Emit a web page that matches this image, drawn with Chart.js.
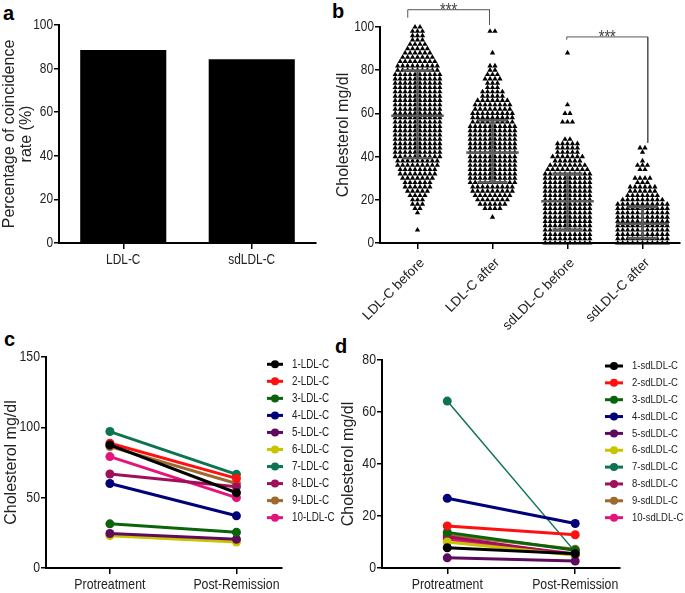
<!DOCTYPE html>
<html><head><meta charset="utf-8">
<script src="https://cdn.jsdelivr.net/npm/chart.js@4.4.1/dist/chart.umd.min.js"></script>
<style>
html,body{margin:0;padding:0;background:#fff;}
body{width:685px;height:593px;position:relative;overflow:hidden;}
canvas{position:absolute;}
.lbl{position:absolute;font:bold 20px 'Liberation Sans',Arial,sans-serif;line-height:20px;color:#000;}
</style></head><body>
<div class="lbl" style="left:3px;top:3px">a</div>
<div class="lbl" style="left:332px;top:1px">b</div>
<div class="lbl" style="left:4px;top:329px">c</div>
<div class="lbl" style="left:335px;top:336px">d</div>
<canvas id="ca" width="340" height="300" style="left:0;top:0"></canvas>
<canvas id="cb" width="355" height="340" style="left:330px;top:0"></canvas>
<canvas id="cc" width="336" height="253" style="left:0;top:340px"></canvas>
<canvas id="cd" width="355" height="253" style="left:330px;top:340px"></canvas>
<script>
// ---------- DATA ----------
const barCategories = ['LDL-C', 'sdLDL-C'];
const barValues = [88.5, 84.3];

const groupNames = ['LDL-C before', 'LDL-C after', 'sdLDL-C before', 'sdLDL-C after'];
const swarmLevels = [0,2,4,6,8,10,12,14,16,18,20,22,24,26,28,30,32,34,36,38,40,42,44,46,48,50,52,54,56,58,60,62,64,66,68,70,72,74,76,78,80,82,84,86,88,90,92,94,96,98,100];
const ldlBeforeCounts = [0,0,0,1,0,0,0,1,2,3, 3,4,5,6,6,7,8,8,9,9, 10,10,10,10,10,10,10,10,10,10, 10,10,10,10,10,10,10,10,10,10, 9,9,8,7,6,5,4,3,3,3, 2];
const ldlAfterCounts  = [0,0,0,0,0,0,1,0,4,6, 7,8,9,9,10,10,10,10,10,10, 10,10,10,10,10,10,10,10,9,9, 9,8,8,7,5,5,3,3,4,3, 2,2,0,0,1,0,0,0,0,2, 0];
const sdBeforeCounts  = [10,10,10,10,10,10,10,10,10,10, 10,10,10,10,10,10,10,9,8,6, 7,5,5,5,2,0,0,0,3,0, 2,0,1,0,0,0,0,0,0,0, 0,0,0,0,1,0,0,0,0,0, 0];
const sdAfterCounts   = [11,11,11,11,11,11,11,11,11,11, 9,7,6,6,3,4,0,2,3,1, 0,1,2,0,0,0,0,0,0,0, 0,0,0,0,0,0,0,0,0,0, 0,0,0,0,0,0,0,0,0,0, 0];
const groupMeans  = [58.9, 41.9, 19.3, 8.9];
const groupSdLow  = [39.3, 28.1, 6.2, 2.3];
const groupSdHigh = [79.9, 56.8, 32.1, 16.7];
const bracketLeftX  = [-0.13, 1.99];
const bracketRightX = [0.96, 3.07];
const bracketTop    = [108, 95.4];
const bracketLeftEnd  = [104.3, 94.1];
const bracketRightEnd = [101, 46.4];
const bracketText = ['***', '***'];

const timepoints = ['Protreatment', 'Post-Remission'];
const ldlLabels = ['1-LDL-C','2-LDL-C','3-LDL-C','4-LDL-C','5-LDL-C','6-LDL-C','7-LDL-C','8-LDL-C','9-LDL-C','10-LDL-C'];
const ldlPre  = [87.5, 88.7, 31.4, 60.1, 24.5, 23.0, 97.0, 66.8, 86.3, 79.2];
const ldlPost = [53.5, 63.7, 25.4, 37.1, 20.4, 18.5, 66.6, 57.8, 60.1, 50.0];
const sdLabels = ['1-sdLDL-C','2-sdLDL-C','3-sdLDL-C','4-sdLDL-C','5-sdLDL-C','6-sdLDL-C','7-sdLDL-C','8-sdLDL-C','9-sdLDL-C','10-sdLDL-C'];
const sdPre  = [7.8, 16.2, 13.7, 26.8, 3.9, 10.0, 64.2, 12.0, 12.7, 11.0];
const sdPost = [5.5, 12.8, 6.8, 17.1, 2.7, 4.9, 6.2, 5.0, 7.2, 5.5];
const seriesColors = ['#000000','#ff1010','#0a650a','#00007a','#5e0a5e','#c8c400','#0e7450','#a0105a','#9b6a2c','#e3157c'];

// ---------- STYLE ----------
const REG = "'Liberation Sans',Arial,sans-serif";
// the reference figure's horizontal text is narrow: squeeze unrotated canvas text horizontally around its anchor
const SQX = 0.82;
const _fillText = CanvasRenderingContext2D.prototype.fillText;
CanvasRenderingContext2D.prototype.fillText = function (text, x, y, maxWidth) {
  const m = this.getTransform();
  if (Math.abs(m.b) > 1e-6 || Math.abs(m.c) > 1e-6) {
    return maxWidth === undefined ? _fillText.call(this, text, x, y) : _fillText.call(this, text, x, y, maxWidth);
  }
  this.save();
  this.translate(x, y);
  this.scale(SQX, 1);
  _fillText.call(this, text, 0, 0);
  this.restore();
};
Chart.defaults.color = '#222';
Chart.defaults.font.family = REG;
Chart.defaults.animation = false;
Chart.defaults.plugins.legend.display = false;
Chart.defaults.plugins.tooltip.enabled = false;

function axisY(min, max, step, width, size, title, titlePad) {
  return {
    min, max,
    ticks: {stepSize: step, color: '#222', font: {family: REG, size}, padding: 1},
    grid: {display: true, drawOnChartArea: false, drawTicks: true, tickLength: 5, color: '#000', lineWidth: 1.5},
    border: {display: true, color: '#000', width: 2},
    title: {display: true, text: title, color: '#222', font: {family: REG, size: 16, lineHeight: 1.05}, padding: {top: titlePad, bottom: 0}},
    afterFit(s) { s.width = width; }
  };
}
function axisXLinear(min, max, labels, height, font, rotation, pad, labelOffset) {
  return {
    type: 'linear', min, max,
    afterBuildTicks(s) { s.ticks = labels.map((_, i) => ({value: i})); },
    ticks: {callback: v => labels[Math.round(v)] || '', autoSkip: false, minRotation: rotation, maxRotation: rotation, color: '#222', font, padding: pad, labelOffset},
    grid: {display: true, drawOnChartArea: false, drawTicks: true, tickLength: 6, color: '#000', lineWidth: 1.5},
    border: {display: true, color: '#000', width: 2},
    afterFit(s) { s.height = height; }
  };
}

// ---------- PANEL A ----------
new Chart(document.getElementById('ca'), {
  type: 'bar',
  data: {labels: barCategories, datasets: [{data: barValues, backgroundColor: '#000', borderWidth: 0, barPercentage: 0.67, categoryPercentage: 1}]},
  options: {
    responsive: false,
    layout: {padding: {top: 25, right: 24, left: 0, bottom: 0}},
    scales: {
      x: {
        ticks: {color: '#222', font: {family: REG, size: 14.5}, padding: 2},
        grid: {display: true, offset: false, drawOnChartArea: false, drawTicks: true, tickLength: 6, color: '#000', lineWidth: 1.5},
        border: {display: true, color: '#000', width: 2},
        afterFit(s) { s.height = 57; }
      },
      y: axisY(0, 100, 20, 59, 14.5, ['Percentage of coincidence', 'rate (%)'], 1)
    }
  }
});

// ---------- PANEL B ----------
const swarmStep = 0.066;
const swarmCounts = [ldlBeforeCounts, ldlAfterCounts, sdBeforeCounts, sdAfterCounts];
const bDatasets = [];
swarmCounts.forEach((counts, g) => {
  const pts = [];
  counts.forEach((n, k) => {
    for (let i = 0; i < n; i++) pts.push({x: g + (i - (n - 1) / 2) * swarmStep, y: swarmLevels[k]});
  });
  bDatasets.push({data: pts, pointStyle: 'triangle', pointRadius: 3.1, pointBackgroundColor: '#000', pointBorderWidth: 0, showLine: false, order: 2, clip: false});
});
function seg(points, color, width) {
  return {data: points, showLine: true, borderColor: color, borderWidth: width, pointRadius: 0, order: 1, clip: false};
}
groupMeans.forEach((m, g) => {
  const lo = groupSdLow[g], hi = groupSdHigh[g];
  bDatasets.push(seg([{x: g - 0.35, y: m}, {x: g + 0.35, y: m}], '#5c5c5c', 2.5));
  bDatasets.push(seg([{x: g, y: lo}, {x: g, y: hi}], '#5c5c5c', 2.5));
  bDatasets.push(seg([{x: g - 0.2, y: lo}, {x: g + 0.2, y: lo}], '#5c5c5c', 2.5));
  bDatasets.push(seg([{x: g - 0.2, y: hi}, {x: g + 0.2, y: hi}], '#5c5c5c', 2.5));
});
bracketTop.forEach((t, i) => {
  bDatasets.push(seg([{x: bracketLeftX[i], y: bracketLeftEnd[i]}, {x: bracketLeftX[i], y: t}, {x: bracketRightX[i], y: t}, {x: bracketRightX[i], y: bracketRightEnd[i]}], '#555', 1));
});
const starsPlugin = {
  id: 'stars',
  afterDatasetsDraw(chart) {
    const ctx = chart.ctx, xs = chart.scales.x, ys = chart.scales.y;
    ctx.save();
    ctx.fillStyle = '#444';
    ctx.font = '18px ' + REG;
    ctx.textAlign = 'center';
    ctx.textBaseline = 'alphabetic';
    bracketTop.forEach((t, i) => {
      const px = xs.getPixelForValue((bracketLeftX[i] + bracketRightX[i]) / 2);
      const py = ys.getPixelForValue(t);
      ctx.fillText(bracketText[i], px, py + 6);
    });
    ctx.restore();
  }
};
new Chart(document.getElementById('cb'), {
  type: 'scatter',
  data: {datasets: bDatasets},
  plugins: [starsPlugin],
  options: {
    responsive: false,
    layout: {padding: {top: 27, right: 5, left: 0, bottom: 0}},
    scales: {
      x: axisXLinear(-0.5, 3.5, groupNames, 97, {family: REG, size: 13.5}, 45, 6, 5),
      y: axisY(0, 100, 20, 50, 14.5, 'Cholesterol mg/dl', 5.5)
    }
  }
});

// ---------- PANELS C & D ----------
function sideLegend(x0, x1, tx, y0, dy, size) {
  return {
    id: 'sideLegend',
    afterDraw(chart) {
      const ctx = chart.ctx;
      ctx.save();
      chart.data.datasets.forEach((ds, i) => {
        const y = y0 + i * dy;
        ctx.strokeStyle = ds.borderColor; ctx.lineWidth = 3;
        ctx.beginPath(); ctx.moveTo(x0, y); ctx.lineTo(x1, y); ctx.stroke();
        ctx.fillStyle = ds.borderColor;
        ctx.beginPath(); ctx.arc((x0 + x1) / 2, y, 4, 0, Math.PI * 2); ctx.fill();
        ctx.fillStyle = '#222'; ctx.font = size + 'px ' + REG;
        ctx.textAlign = 'left'; ctx.textBaseline = 'middle';
        ctx.fillText(ds.label, tx, y);
      });
      ctx.restore();
    }
  };
}
function pairDatasets(labels, pre, post, thinIndex) {
  return labels.map((lab, i) => ({
    label: lab,
    data: [{x: 0, y: pre[i]}, {x: 1, y: post[i]}],
    showLine: true,
    borderColor: seriesColors[i],
    backgroundColor: seriesColors[i],
    borderWidth: i === thinIndex ? 1.5 : 3,
    pointRadius: 4.5,
    pointBackgroundColor: seriesColors[i],
    pointBorderWidth: 0,
    clip: false
  }));
}
new Chart(document.getElementById('cc'), {
  type: 'scatter',
  data: {datasets: pairDatasets(ldlLabels, ldlPre, ldlPost, -1)},
  plugins: [sideLegend(267, 283, 292, 24.3, 17.04, 12)],
  options: {
    responsive: false,
    layout: {padding: {top: 17, right: 54, left: 0, bottom: 0}},
    scales: {
      x: axisXLinear(-0.505, 1.36, timepoints, 25, {family: REG, size: 15}, 0, 2, 0),
      y: axisY(0, 150, 50, 46, 15, 'Cholesterol mg/dl', 3.5)
    }
  }
});
new Chart(document.getElementById('cd'), {
  type: 'scatter',
  data: {datasets: pairDatasets(sdLabels, sdPre, sdPost, 6)},
  plugins: [sideLegend(275, 293, 302, 26, 16.85, 11.6)],
  options: {
    responsive: false,
    layout: {padding: {top: 20, right: 65, left: 0, bottom: 0}},
    scales: {
      x: axisXLinear(-0.51, 1.35, timepoints, 25, {family: REG, size: 15}, 0, 2, 0),
      y: axisY(0, 80, 20, 52, 15, 'Cholesterol mg/dl', 10)
    }
  }
});
</script>
</body></html>
